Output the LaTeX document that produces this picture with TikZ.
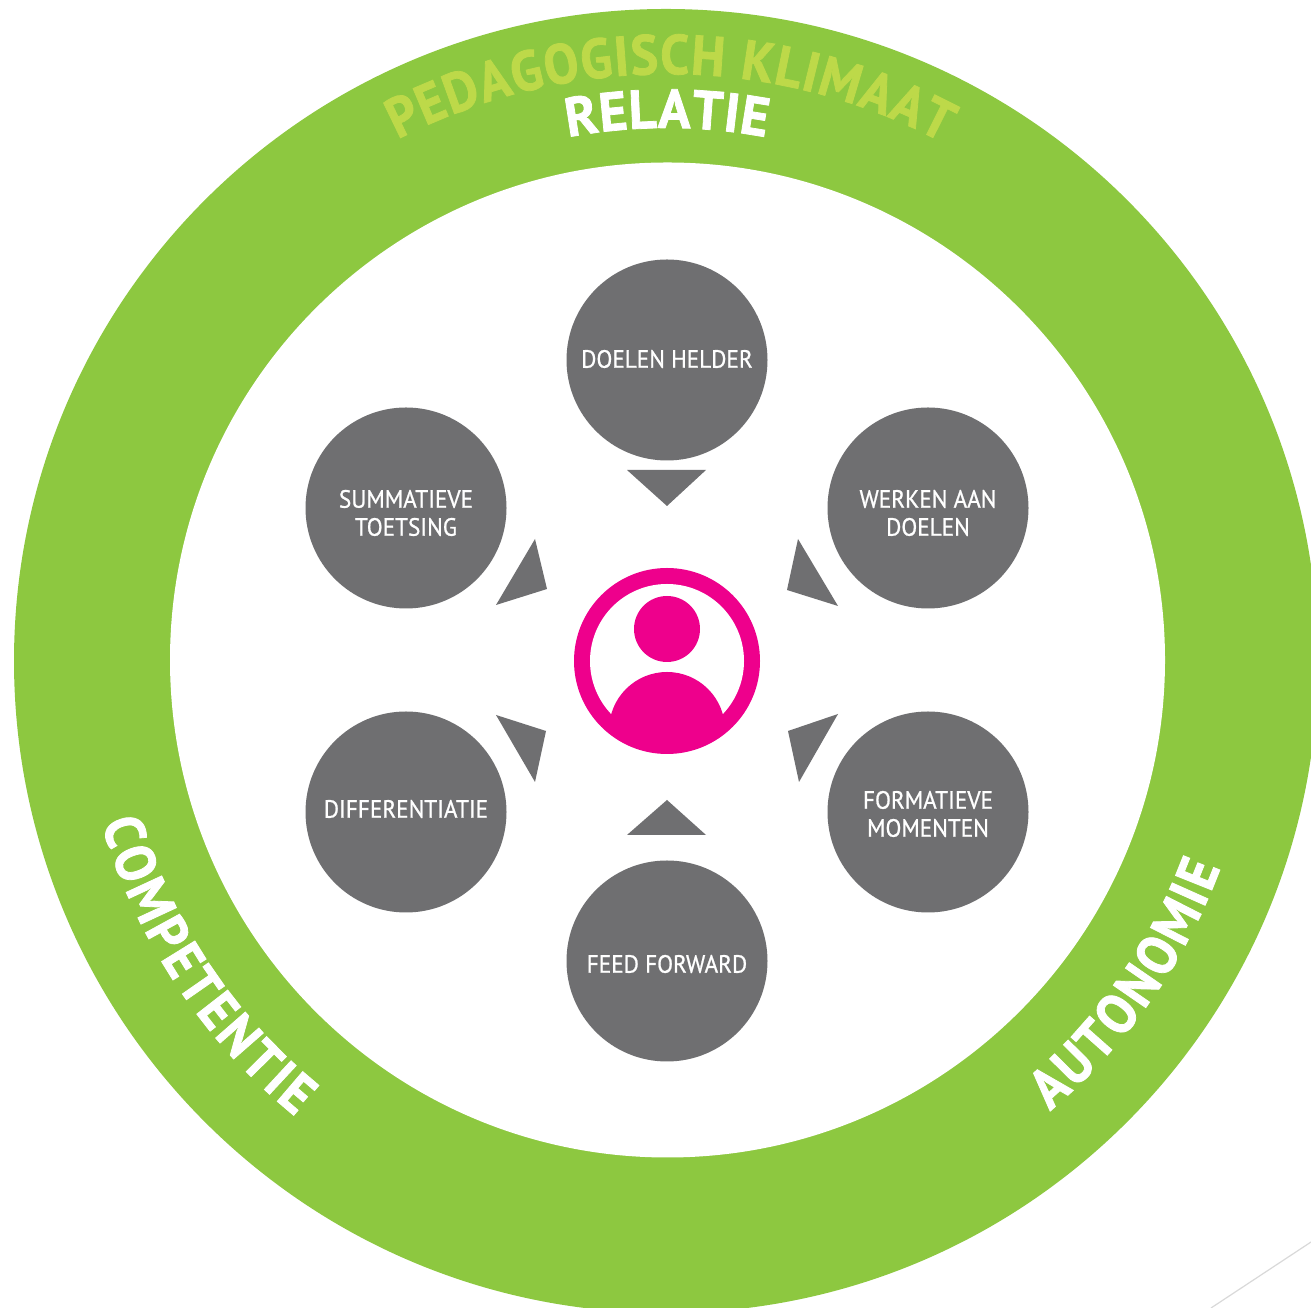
\documentclass[tikz,border=0pt]{standalone}
\usepackage{fontspec}
\setmainfont{PT Sans}[FakeStretch=0.93,FakeBold=0.8]
\newfontfamily\arcfont{PT Sans Bold}[FakeStretch=0.98,FakeBold=1.4]
\newfontfamily\arcfontnarrow{PT Sans Bold}[FakeStretch=0.92,FakeBold=1.4]
\usetikzlibrary{decorations.text}
\definecolor{ringgreen}{HTML}{8DC840}
\definecolor{palegreen}{HTML}{BDD949}
\definecolor{discgray}{HTML}{6F6F71}
\definecolor{hotpink}{HTML}{EE008C}
\definecolor{hairline}{HTML}{D9D9D9}
\tikzset{
  x=1pt,y=1pt,
  disc/.style={circle,fill=discgray,minimum size=201pt,inner sep=0pt,outer sep=0pt},
  disclabel/.style={text=white,align=center,font=\fontsize{25}{28}\selectfont,inner sep=0pt},
  pointer/.style={fill=discgray},
}
\newcommand{\arctext}[7]{% text, start, end, radius, colour, size, font
  \path[decorate,decoration={text along path,text align={fit to path},
    text={|\fontsize{#6}{#6}\selectfont#7\color{#5}|#1}}]
    (667,647) ++(#2:#4pt) arc[start angle=#2,end angle=#3,radius=#4pt];
}
\begin{document}
\begin{tikzpicture}
\clip (0,0) rectangle (1311,1308);
\fill[white] (0,0) rectangle (1311,1308);
% ring
\fill[ringgreen] (666,647) circle[radius=652pt];
\fill[white] (667.5,648) circle[radius=497.5pt];
\draw[hairline,line width=1.2pt] (1311,66) -- (1211,0);
% ring text
\arctext{PEDAGOGISCH KLIMAAT}{117.3}{62}{587}{palegreen}{56}{\arcfontnarrow}
\arctext{RELATIE}{100.7}{79.3}{533}{white}{55}{\arcfont}
\arctext{COMPETENTIE}{196}{230.8}{588}{white}{56}{\arcfontnarrow}
\arctext{AUTONOMIE}{-49.6}{-20.5}{591}{white}{56}{\arcfontnarrow}
% discs
\node[disc] (doelen) at (667,948) {};
\node[disc] (werken) at (928,800) {};
\node[disc] (formatief) at (928,496) {};
\node[disc] (feed) at (667,347) {};
\node[disc] (diff) at (406,496) {};
\node[disc] (summatief) at (406,800) {};
\node[disclabel] (tdoelen) at (667,949) {DOELEN HELDER};
\node[disclabel] (twerken) at (928,795) {WERKEN AAN\\DOELEN};
\node[disclabel] (tformatief) at (928,494) {FORMATIEVE\\MOMENTEN};
\node[disclabel] (tfeed) at (667,344) {FEED FORWARD};
\node[disclabel] (tdiff) at (406,499) {DIFFERENTIATIE};
\node[disclabel] (tsummatief) at (406,795) {SUMMATIEVE\\TOETSING};
% pointers
\fill[pointer] (627,838) -- (706,838) -- (667,802) -- cycle;
\fill[pointer] (627,473) -- (706,473) -- (667,508) -- cycle;
\fill[pointer] (535,769) -- (547,719) -- (496,703) -- cycle;
\fill[pointer] (798,769) -- (787,718) -- (838,702) -- cycle;
\fill[pointer] (496,593) -- (546,577) -- (535,526) -- cycle;
\fill[pointer] (838,594) -- (788,577) -- (799,526) -- cycle;
% person
\fill[hotpink] (667,647) circle[radius=93pt];
\fill[white] (667,647) circle[radius=77pt];
\fill[hotpink] (667,679) circle[radius=33pt];
\begin{scope}
\clip (667,647) circle[radius=78pt];
\fill[hotpink] (667,578) circle[radius=58pt];
\end{scope}
\end{tikzpicture}
\end{document}
